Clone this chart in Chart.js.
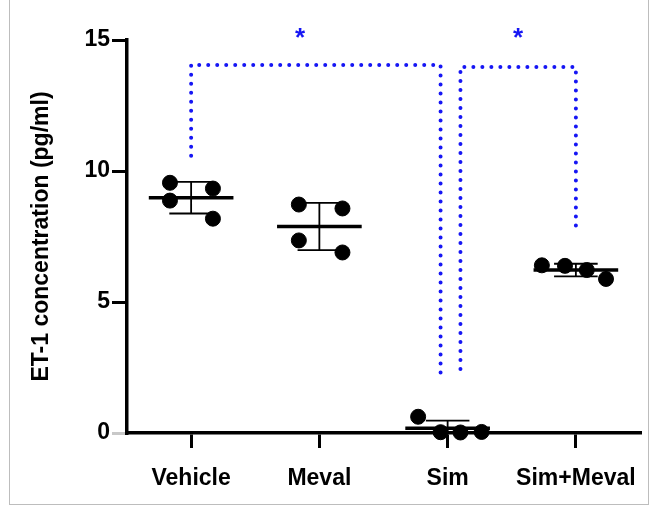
<!DOCTYPE html>
<html>
<head>
<meta charset="utf-8">
<script src="https://cdn.jsdelivr.net/npm/chart.js@4.4.1/dist/chart.umd.min.js"></script>
<style>
  body { margin: 0; background: #fff; }
  #wrap { position: relative; width: 655px; height: 521px; }
  #frame { position: absolute; left: 9px; top: -2px; width: 640px; height: 507px; border: 1px solid #bdbdbd; box-sizing: border-box; }
  canvas { position: absolute; left: 0; top: 0; }
</style>
</head>
<body>
<div id="wrap">
  <div id="frame"></div>
  <canvas id="chart" width="655" height="521"></canvas>
</div>
<script>
const categories = ['Vehicle', 'Meval', 'Sim', 'Sim+Meval']
// ET-1 (pg/ml), four animals per group
const vehicle = [9.55, 9.33, 8.87, 8.18]
const meval = [8.72, 8.57, 7.35, 6.89]
const sim = [0.62, 0.03, 0.02, 0.04]
const simMeval = [6.40, 6.38, 6.22, 5.88]
const groups = [vehicle, meval, sim, simMeval]
const yTicks = [0, 5, 10, 15]

// significance brackets: [x, y] in axis units
const bracket1 = [[0, 10.58], [0, 14.05], [1.945, 14.05], [1.945, 2.2]]
const bracket2 = [[2.1, 2.44], [2.1, 13.97], [3, 13.97], [3, 7.69]]
const stars = [[0.85, 15.15], [2.55, 15.15]]

// horizontal spread of the dots inside a column (category units)
const spread = [
  [-0.165, 0.17, -0.165, 0.17],
  [-0.16, 0.18, -0.16, 0.18],
  [-0.23, -0.055, 0.1, 0.265],
  [-0.265, -0.085, 0.085, 0.235]
]

const blue = '#1616f4'
const font = { family: 'Liberation Sans, Arial, sans-serif', weight: 'bold', size: 23 }

function mean(a) { return a.reduce((s, v) => s + v, 0) / a.length }
function sd(a) {
  const m = mean(a)
  return Math.sqrt(a.reduce((s, v) => s + (v - m) * (v - m), 0) / (a.length - 1))
}

const dots = []
const meanLines = []
const errLines = []
groups.forEach((g, i) => {
  g.forEach((v, j) => dots.push({ x: i + spread[i][j], y: v }))
  const m = mean(g), s = sd(g)
  meanLines.push({ x: i - 0.33, y: m }, { x: i + 0.33, y: m }, { x: i, y: null })
  errLines.push(
    { x: i, y: m - s }, { x: i, y: m + s }, { x: i, y: null },
    { x: i - 0.17, y: m + s }, { x: i + 0.17, y: m + s }, { x: i, y: null },
    { x: i - 0.17, y: m - s }, { x: i + 0.17, y: m - s }, { x: i, y: null }
  )
})

const starPlugin = {
  id: 'stars',
  afterDatasetsDraw(chart) {
    const c = chart.ctx, xs = chart.scales.x, ys = chart.scales.y
    c.save()
    c.fillStyle = blue
    c.font = 'bold 26px Liberation Sans, Arial, sans-serif'
    c.textAlign = 'center'
    c.textBaseline = 'middle'
    stars.forEach(p => c.fillText('*', xs.getPixelForValue(p[0]), ys.getPixelForValue(p[1]) + 3))
    c.restore()
  }
}

function bracketSet(b) {
  return {
    type: 'line', showLine: true,
    data: b.map(p => ({ x: p[0], y: p[1] })),
    borderColor: blue, borderWidth: 4, borderDash: [0, 9], borderCapStyle: 'round',
    pointRadius: 0, fill: false, tension: 0
  }
}

new Chart(document.getElementById('chart').getContext('2d'), {
  type: 'scatter',
  data: {
    datasets: [{
      data: dots,
      backgroundColor: '#000', borderColor: '#000',
      pointRadius: 7.5, pointHoverRadius: 7.5, clip: false
    }, {
      type: 'line', showLine: true, data: meanLines, spanGaps: false,
      borderColor: '#000', borderWidth: 3.5, pointRadius: 0
    }, {
      type: 'line', showLine: true, data: errLines, spanGaps: false,
      borderColor: '#000', borderWidth: 1.8, pointRadius: 0
    },
    bracketSet(bracket1),
    bracketSet(bracket2)]
  },
  options: {
    responsive: false,
    animation: false,
    layout: { padding: { top: 40, right: 15, left: 0, bottom: 0 } },
    plugins: { legend: { display: false }, tooltip: { enabled: false } },
    scales: {
      x: {
        type: 'linear', min: -0.5, max: 3.5,
        afterBuildTicks: s => { s.ticks = categories.map((c, i) => ({ value: i })) },
        afterFit: s => { s.height = 88 },
        ticks: { callback: v => categories[v], color: '#000', font: font, padding: 17, maxRotation: 0 },
        grid: { drawOnChartArea: false, tickLength: 15, color: '#000', lineWidth: 3 },
        border: { color: '#000', width: 3.5 }
      },
      y: {
        min: 0, max: 15,
        afterBuildTicks: s => { s.ticks = yTicks.map(v => ({ value: v })) },
        afterFit: s => { s.width = 127 },
        ticks: { color: '#000', font: font, padding: 2 },
        grid: {
          drawOnChartArea: false, tickLength: 15, lineWidth: 3,
          color: c => c.tick && c.tick.value === 0 ? '#c8c8c8' : '#000'
        },
        border: { color: '#000', width: 3.5 },
        title: { display: true, text: 'ET-1 concentration (pg/ml)', color: '#000', font: font, padding: { top: 28, bottom: 0 } }
      }
    }
  },
  plugins: [starPlugin]
})
</script>
</body>
</html>
